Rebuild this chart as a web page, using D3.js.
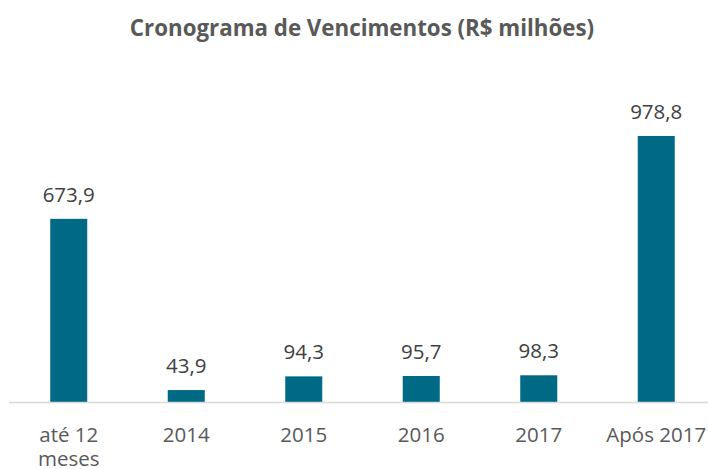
<!DOCTYPE html>
<html>
<head>
<meta charset="utf-8">
<script src="https://cdn.jsdelivr.net/npm/d3@7"></script>
<style>
  body { margin: 0; background: #fff; }
  svg { display: block; font-family: "Open Sans", sans-serif; }
</style>
</head>
<body>
<svg id="chart" width="708" height="469"></svg>
<script>
// data
var categories = ["até 12 meses", "2014", "2015", "2016", "2017", "Após 2017"];
var values = [673.9, 43.9, 94.3, 95.7, 98.3, 978.8];
var valueLabels = ["673,9", "43,9", "94,3", "95,7", "98,3", "978,8"];
var title = "Cronograma de Vencimentos (R$ milhões)";

var svg = d3.select("#chart");
var width = 708, height = 469;
var baseline = 402;

var x = d3.scaleBand()
	.domain(categories)
	.range([10, 715])
	.paddingInner(0.685)
	.paddingOuter(0.3425);

var y = d3.scaleLinear()
	.domain([0, 1000])
	.range([baseline, baseline - 271.8]);

svg.append("text")
	.attr("x", 362)
	.attr("y", 36)
	.attr("text-anchor", "middle")
	.attr("font-size", "22.3px")
	.attr("font-weight", "bold")
	.attr("fill", "#595959")
	.text(title);

svg.append("g")
	.selectAll("rect")
	.data(values)
	.join("rect")
	.attr("x", (d, i) => x(categories[i]))
	.attr("width", x.bandwidth())
	.attr("y", d => y(d))
	.attr("height", d => baseline - y(d))
	.attr("fill", "#006983");

// axis line
svg.append("line")
	.attr("x1", 9)
	.attr("x2", 708)
	.attr("y1", baseline + 0.5)
	.attr("y2", baseline + 0.5)
	.attr("stroke", "#d9d9d9")
	.attr("stroke-width", 1.5);

// value labels
svg.append("g")
	.selectAll("text")
	.data(values)
	.join("text")
	.attr("x", (d, i) => x(categories[i]) + x.bandwidth() / 2)
	.attr("y", d => y(d) - 17)
	.attr("text-anchor", "middle")
	.attr("font-size", "20.5px")
	.attr("fill", "#404040")
	.text((d, i) => valueLabels[i]);

// category labels, wrapped like the original
var catLines = [["até 12", "meses"], ["2014"], ["2015"], ["2016"], ["2017"], ["Após 2017"]];
svg.append("g")
	.selectAll("text")
	.data(categories)
	.join("text")
	.attr("x", d => x(d) + x.bandwidth() / 2)
	.attr("y", 442)
	.attr("text-anchor", "middle")
	.attr("font-size", "20.5px")
	.attr("fill", "#595959")
	.each(function(d, i) {
		var t = d3.select(this);
		catLines[i].forEach((ln, j) => {
			t.append("tspan")
				.attr("x", x(d) + x.bandwidth() / 2)
				.attr("dy", j === 0 ? 0 : 24)
				.text(ln);
		});
	});
</script>
</body>
</html>
